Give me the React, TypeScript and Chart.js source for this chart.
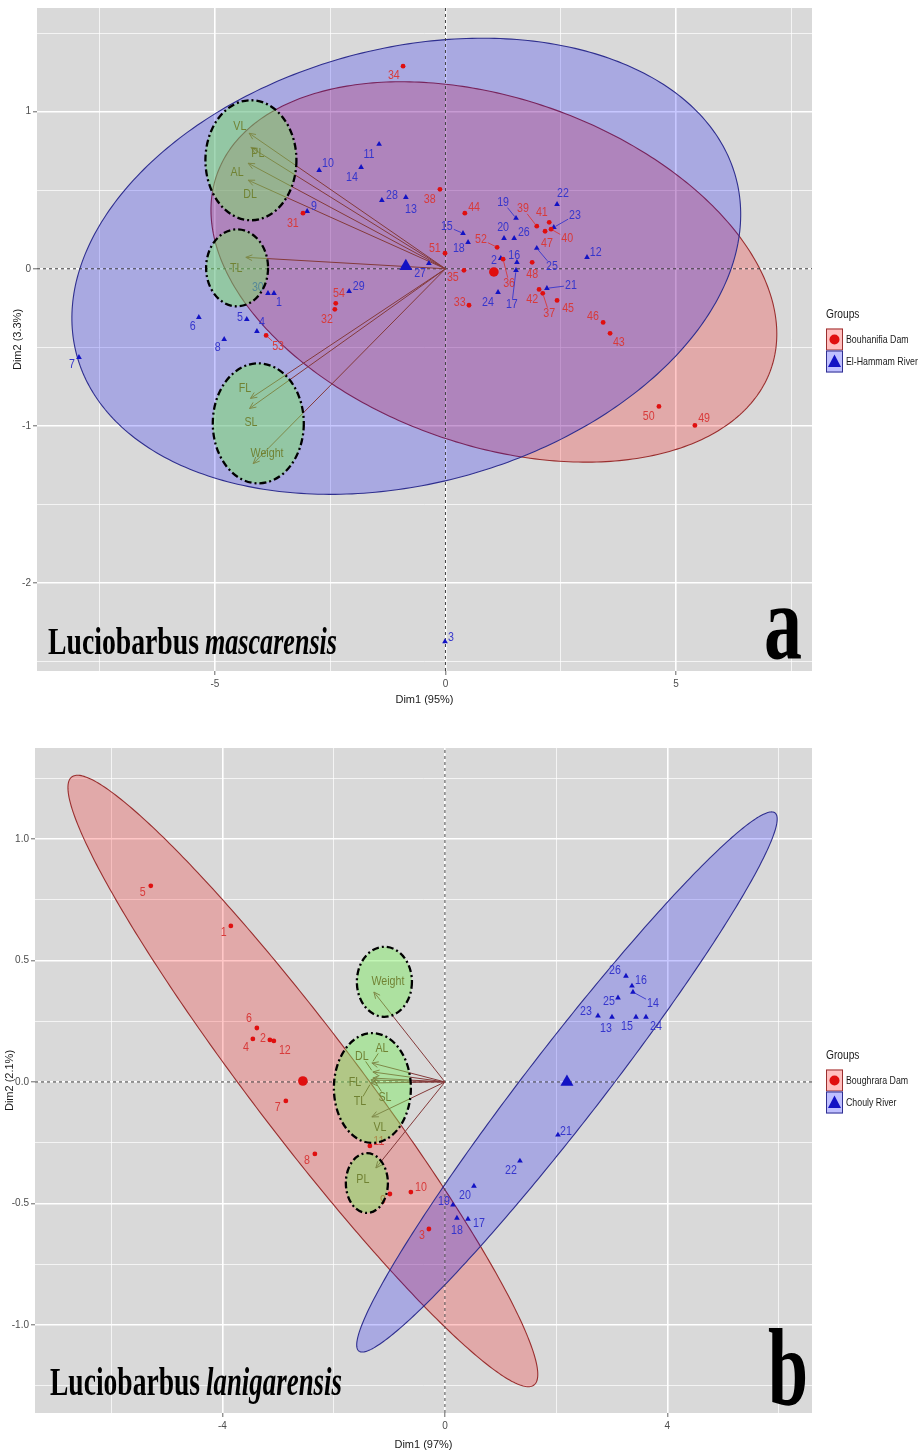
import React, { useEffect, useRef } from "react";
import { Chart, registerables } from "chart.js";
Chart.register(...registerables);

// ================= Panel a : Luciobarbus mascarensis =================
const A_GROUPS = ["Bouhanifia Dam", "El-Hammam River"];
const A_X_TITLE = "Dim1 (95%)";
const A_Y_TITLE = "Dim2 (3.3%)";
const A_X_RANGE = [-8.86, 7.95];
const A_Y_RANGE = [-2.56, 1.66];

const A_BLUE_IDS = [1, 2, 3, 4, 5, 6, 7, 8, 9, 10, 11, 12, 13, 14, 15, 16, 17, 18, 19, 20, 21, 22, 23, 24, 25, 26, 27, 28, 29, 30];
const A_BLUE_X = [-3.72, 1.20, -0.01, -4.09, -4.31, -5.35, -7.95, -4.80, -3.00, -2.74, -1.44, 3.07, -0.86, -1.83, 0.38, 1.55, 1.53, 0.49, 1.53, 1.27, 2.20, 2.42, 2.35, 1.14, 1.98, 1.49, -0.36, -1.38, -2.09, -3.85];
const A_BLUE_Y = [-0.156, 0.067, -2.373, -0.398, -0.322, -0.309, -0.564, -0.449, 0.366, 0.627, 0.793, 0.073, 0.455, 0.646, 0.226, 0.041, -0.010, 0.169, 0.322, 0.194, -0.124, 0.411, 0.264, -0.150, 0.131, 0.194, 0.035, 0.436, -0.143, -0.156];
const A_BLUE_LX = [-3.61, 1.05, 0.12, -3.98, -4.46, -5.48, -8.10, -4.94, -2.85, -2.55, -1.66, 3.26, -0.75, -2.03, 0.03, 1.49, 1.44, 0.29, 1.25, 1.25, 2.72, 2.55, 2.81, 0.92, 2.31, 1.70, -0.55, -1.16, -1.88, -4.07];
const A_BLUE_LY = [-0.213, 0.054, -2.347, -0.341, -0.309, -0.366, -0.608, -0.500, 0.398, 0.672, 0.729, 0.105, 0.379, 0.583, 0.270, 0.086, -0.226, 0.131, 0.424, 0.264, -0.105, 0.481, 0.341, -0.213, 0.016, 0.232, -0.029, 0.468, -0.111, -0.118];

const A_RED_IDS = [31, 32, 33, 34, 35, 36, 37, 38, 39, 40, 41, 42, 43, 44, 45, 46, 47, 48, 49, 50, 51, 52, 53, 54];
const A_RED_X = [-3.09, -2.40, 0.51, -0.92, 0.40, 1.25, 2.11, -0.12, 1.98, 2.29, 2.25, 2.03, 3.57, 0.42, 2.42, 3.42, 2.16, 1.88, 5.41, 4.63, -0.01, 1.12, -3.89, -2.38];
const A_RED_Y = [0.354, -0.258, -0.232, 1.290, -0.010, 0.061, -0.156, 0.506, 0.271, 0.252, 0.296, -0.131, -0.411, 0.354, -0.201, -0.341, 0.239, 0.041, -0.997, -0.876, 0.099, 0.137, -0.424, -0.220];
const A_RED_LX = [-3.31, -2.57, 0.31, -1.12, 0.16, 1.38, 2.25, -0.34, 1.68, 2.64, 2.09, 1.88, 3.76, 0.62, 2.66, 3.20, 2.20, 1.88, 5.61, 4.41, -0.23, 0.77, -3.63, -2.31];
const A_RED_LY = [0.290, -0.322, -0.213, 1.232, -0.054, -0.092, -0.283, 0.443, 0.385, 0.194, 0.360, -0.194, -0.468, 0.392, -0.252, -0.303, 0.162, -0.035, -0.952, -0.939, 0.131, 0.188, -0.494, -0.156];

const A_RED_MEAN = [1.05, -0.02];
const A_BLUE_MEAN = [-0.86, 0.016];

const A_VARS = ["VL", "PL", "AL", "DL", "TL", "FL", "SL", "Weight"];
const A_VAR_X = [-4.26, -4.22, -4.28, -4.28, -4.33, -4.23, -4.25, -4.17];
const A_VAR_Y = [0.863, 0.773, 0.672, 0.564, 0.073, -0.825, -0.889, -1.24];
const A_VAR_LX = [-4.46, -4.07, -4.52, -4.24, -4.54, -4.35, -4.22, -3.87];
const A_VAR_LY = [0.908, 0.736, 0.615, 0.475, 0.003, -0.761, -0.978, -1.175];

// confidence ellipses: centre x, centre y, semi-diameter u (x,y), conjugate semi-diameter v (x,y)
const A_RED_ELLIPSE = [1.05, -0.02, 6.01, -0.618, 1.24, 1.041];
const A_BLUE_ELLIPSE = [-0.85, 0.016, 7.15, 0.563, 1.22, -1.338];
// highlighted variable groups: centre x, centre y, radius x, radius y
const A_HIGHLIGHTS = [
  [-4.22, 0.691, 0.987, 0.382],
  [-4.52, 0.006, 0.672, 0.245],
  [-4.06, -0.984, 0.987, 0.382],
];

// ================= Panel b : Luciobarbus lanigarensis =================
const B_GROUPS = ["Boughrara Dam", "Chouly River"];
const B_X_TITLE = "Dim1 (97%)";
const B_Y_TITLE = "Dim2 (2.1%)";
const B_X_RANGE = [-7.37, 6.6];
const B_Y_RANGE = [-1.362, 1.374];

const B_RED_IDS = [1, 2, 3, 4, 5, 6, 7, 8, 9, 10, 11, 12];
const B_RED_X = [-3.849, -3.147, -0.288, -3.453, -5.288, -3.381, -2.86, -2.338, -0.989, -0.612, -1.349, -3.076];
const B_RED_Y = [0.642, 0.173, -0.605, 0.177, 0.807, 0.222, -0.078, -0.296, -0.461, -0.453, -0.263, 0.169];
const B_RED_LX = [-3.975, -3.273, -0.414, -3.579, -5.432, -3.525, -3.004, -2.482, -1.115, -0.432, -1.187, -2.878];
const B_RED_LY = [0.617, 0.181, -0.63, 0.144, 0.778, 0.263, -0.103, -0.321, -0.486, -0.432, -0.243, 0.128];

const B_BLUE_IDS = [13, 14, 15, 16, 17, 18, 19, 20, 21, 22, 23, 24, 25, 26];
const B_BLUE_X = [3.004, 3.381, 3.435, 3.363, 0.414, 0.216, 0.144, 0.522, 2.032, 1.349, 2.752, 3.615, 3.112, 3.255];
const B_BLUE_Y = [0.267, 0.37, 0.267, 0.395, -0.564, -0.56, -0.506, -0.428, -0.218, -0.325, 0.272, 0.267, 0.346, 0.436];
const B_BLUE_LX = [2.896, 3.741, 3.273, 3.525, 0.612, 0.216, -0.018, 0.36, 2.176, 1.187, 2.536, 3.795, 2.95, 3.058];
const B_BLUE_LY = [0.222, 0.325, 0.23, 0.416, -0.58, -0.609, -0.49, -0.465, -0.202, -0.366, 0.292, 0.23, 0.333, 0.457];

const B_RED_MEAN = [-2.554, 0.004];
const B_BLUE_MEAN = [2.194, 0.0];

const B_VARS = ["Weight", "AL", "DL", "FL", "TL", "SL", "VL", "PL"];
const B_VAR_X = [-1.277, -1.313, -1.295, -1.331, -1.331, -1.295, -1.313, -1.241];
const B_VAR_Y = [0.37, 0.078, 0.041, 0.008, -0.004, 0.016, -0.144, -0.354];
const B_VAR_LX = [-1.025, -1.133, -1.493, -1.619, -1.529, -1.079, -1.169, -1.475];
const B_VAR_LY = [0.412, 0.14, 0.107, 0.0, -0.082, -0.062, -0.189, -0.399];

const B_RED_ELLIPSE = [-2.554, 0.004, 4.155, -1.251, 0.759, 0.132];
const B_BLUE_ELLIPSE = [2.194, 0.0, 3.741, 1.107, 0.541, -0.096];
const B_HIGHLIGHTS = [
  [-1.088, 0.412, 0.495, 0.144],
  [-1.304, -0.025, 0.692, 0.226],
  [-1.403, -0.416, 0.378, 0.123],
];

// ================= styles =================
const NARROW = "'Liberation Sans Narrow', 'Liberation Sans', Arial, sans-serif";
const SERIF = "'Liberation Serif', 'DejaVu Serif', serif";
const BG = "#d9d9d9";
const RED_PT = "#e00f0f";
const BLUE_PT = "#1212c4";
const RED_TXT = "#d83a3a";
const BLUE_TXT = "#3535cc";
const RED_FILL = "rgba(255,0,0,0.22)";
const BLUE_FILL = "rgba(0,0,255,0.22)";
const RED_EDGE = "#9a2f2f";
const BLUE_EDGE = "#2f2f8f";
const ARROW = "#843a3a";
const VAR_TXT = "#6a2c12";
const GREEN = "rgba(120,235,90,0.45)";
const SQUEEZE = 0.82;

Chart.defaults.font.family = NARROW;

function isMajor(v: number, major: number) {
  const r = v / major;
  return Math.abs(r - Math.round(r)) < 1e-6;
}

function fillNarrow(ctx: any, text: string, x: number, y: number, f = SQUEEZE) {
  const w = ctx.measureText(text).width;
  ctx.fillText(text, x, y, w * f);
  return w * f;
}

function ellipsePath(ctx: any, xs: any, ys: any, e: number[]) {
  ctx.beginPath();
  for (let i = 0; i <= 360; i++) {
    const t = (i / 360) * Math.PI * 2;
    const dx = e[0] + e[2] * Math.cos(t) + e[4] * Math.sin(t);
    const dy = e[1] + e[3] * Math.cos(t) + e[5] * Math.sin(t);
    const px = xs.getPixelForValue(dx);
    const py = ys.getPixelForValue(dy);
    if (i === 0) ctx.moveTo(px, py);
    else ctx.lineTo(px, py);
  }
  ctx.closePath();
}

function drawLabel(ctx: any, text: string, px: number, py: number, lx: number, ly: number, color: string, minGap: number) {
  ctx.fillStyle = color;
  const w = fillNarrow(ctx, text, lx, ly);
  const hw = w / 2 + 1;
  const hh = 5.5;
  const dx = px - lx;
  const dy = py - ly;
  const adx = Math.abs(dx);
  const ady = Math.abs(dy);
  if (adx <= hw && ady <= hh) return;
  const t = Math.min(adx > 0 ? hw / adx : Infinity, ady > 0 ? hh / ady : Infinity);
  const ex = lx + dx * t;
  const ey = ly + dy * t;
  const gap = Math.hypot(px - ex, py - ey);
  if (gap > minGap) {
    const k = (gap - 2) / gap;
    ctx.strokeStyle = color;
    ctx.lineWidth = 0.9;
    ctx.beginPath();
    ctx.moveTo(ex, ey);
    ctx.lineTo(ex + (px - ex) * k, ey + (py - ey) * k);
    ctx.stroke();
  }
}

function decorPlugin(s: any) {
  return {
    id: "decor",
    beforeDraw(chart: any) {
      const { ctx, chartArea: a } = chart;
      ctx.save();
      ctx.fillStyle = "#ffffff";
      ctx.fillRect(0, 0, chart.width, chart.height);
      ctx.fillStyle = BG;
      ctx.fillRect(a.left, a.top, a.right - a.left, a.bottom - a.top);
      ctx.restore();
    },
    beforeDatasetsDraw(chart: any) {
      const { ctx, chartArea: a, scales } = chart;
      ctx.save();
      ctx.beginPath();
      ctx.rect(a.left, a.top, a.right - a.left, a.bottom - a.top);
      ctx.clip();
      const ells = [
        { e: s.redEll, fill: RED_FILL, edge: RED_EDGE },
        { e: s.blueEll, fill: BLUE_FILL, edge: BLUE_EDGE },
      ];
      for (const g of ells) {
        ellipsePath(ctx, scales.x, scales.y, g.e);
        ctx.fillStyle = g.fill;
        ctx.fill();
        ctx.strokeStyle = g.edge;
        ctx.lineWidth = 1.1;
        ctx.stroke();
      }
      ctx.restore();
    },
    afterDatasetsDraw(chart: any) {
      const { ctx, chartArea: a, scales } = chart;
      const xs = scales.x;
      const ys = scales.y;
      ctx.save();
      ctx.beginPath();
      ctx.rect(a.left, a.top, a.right - a.left, a.bottom - a.top);
      ctx.clip();
      // arrow heads
      const ox = xs.getPixelForValue(0);
      const oy = ys.getPixelForValue(0);
      ctx.strokeStyle = ARROW;
      ctx.lineWidth = 1;
      s.varX.forEach((vx: number, i: number) => {
        const tx = xs.getPixelForValue(vx);
        const ty = ys.getPixelForValue(s.varY[i]);
        const ang = Math.atan2(ty - oy, tx - ox);
        const L = 7;
        const sp = 0.42;
        ctx.beginPath();
        ctx.moveTo(tx - L * Math.cos(ang - sp), ty - L * Math.sin(ang - sp));
        ctx.lineTo(tx, ty);
        ctx.lineTo(tx - L * Math.cos(ang + sp), ty - L * Math.sin(ang + sp));
        ctx.stroke();
      });
      ctx.font = `13px ${NARROW}`;
      ctx.textAlign = "center";
      ctx.textBaseline = "middle";
      // variable labels
      s.vars.forEach((name: string, i: number) => {
        drawLabel(
          ctx, name,
          xs.getPixelForValue(s.varX[i]), ys.getPixelForValue(s.varY[i]),
          xs.getPixelForValue(s.varLX[i]), ys.getPixelForValue(s.varLY[i]),
          VAR_TXT, 10
        );
      });
      // individual labels
      s.redIds.forEach((id: number, i: number) => {
        drawLabel(
          ctx, String(id),
          xs.getPixelForValue(s.redX[i]), ys.getPixelForValue(s.redY[i]),
          xs.getPixelForValue(s.redLX[i]), ys.getPixelForValue(s.redLY[i]),
          RED_TXT, 8
        );
      });
      s.blueIds.forEach((id: number, i: number) => {
        drawLabel(
          ctx, String(id),
          xs.getPixelForValue(s.blueX[i]), ys.getPixelForValue(s.blueY[i]),
          xs.getPixelForValue(s.blueLX[i]), ys.getPixelForValue(s.blueLY[i]),
          BLUE_TXT, 8
        );
      });
      ctx.restore();
    },
    afterDraw(chart: any) {
      const { ctx, chartArea: a, scales } = chart;
      const xs = scales.x;
      const ys = scales.y;
      ctx.save();
      // green highlight ellipses
      for (const h of s.highlights) {
        const cx = xs.getPixelForValue(h[0]);
        const cy = ys.getPixelForValue(h[1]);
        const rx = Math.abs(xs.getPixelForValue(h[0] + h[2]) - cx);
        const ry = Math.abs(ys.getPixelForValue(h[1] + h[3]) - cy);
        ctx.beginPath();
        ctx.ellipse(cx, cy, rx, ry, 0, 0, Math.PI * 2);
        ctx.fillStyle = GREEN;
        ctx.fill();
        ctx.setLineDash([7, 3, 2, 3]);
        ctx.lineWidth = 2.3;
        ctx.strokeStyle = "#000";
        ctx.stroke();
      }
      ctx.setLineDash([]);
      // species title
      ctx.fillStyle = "#000";
      ctx.textAlign = "left";
      ctx.textBaseline = "alphabetic";
      const tx = a.left + s.titleDX;
      const ty = a.bottom - s.titleDY;
      ctx.font = `bold ${s.titleSize}px ${SERIF}`;
      ctx.fillText(s.genus, tx, ty, s.genusW);
      ctx.font = `italic bold ${s.titleSize}px ${SERIF}`;
      ctx.fillText(s.species, tx + s.genusW + 6, ty, s.speciesW);
      // panel letter
      ctx.textAlign = "right";
      ctx.font = `bold ${s.letterSize}px ${SERIF}`;
      ctx.fillText(s.letter, a.right - s.letterDX, a.bottom - s.letterDY, s.letterW);
      // legend
      const mid = (a.top + a.bottom) / 2;
      const x0 = a.right + 14;
      ctx.textAlign = "left";
      ctx.textBaseline = "middle";
      ctx.fillStyle = "#1a1a1a";
      ctx.font = `12px ${NARROW}`;
      fillNarrow(ctx, "Groups", x0, mid - 25, 0.85);
      const keys = [
        { top: mid - 11, fill: "rgba(255,0,0,0.25)", edge: RED_EDGE, col: RED_PT, tri: false, label: s.groups[0] },
        { top: mid + 11, fill: "rgba(0,0,255,0.25)", edge: BLUE_EDGE, col: BLUE_PT, tri: true, label: s.groups[1] },
      ];
      for (const k of keys) {
        ctx.fillStyle = "#fff";
        ctx.fillRect(x0, k.top, 17, 22);
        ctx.fillStyle = k.fill;
        ctx.fillRect(x0, k.top, 17, 22);
        ctx.strokeStyle = k.edge;
        ctx.lineWidth = 1;
        ctx.strokeRect(x0 + 0.5, k.top + 0.5, 16, 21);
        const cx = x0 + 8.5;
        const cy = k.top + 11;
        ctx.fillStyle = k.col;
        ctx.beginPath();
        if (k.tri) {
          ctx.moveTo(cx, cy - 7);
          ctx.lineTo(cx + 6.5, cy + 5.5);
          ctx.lineTo(cx - 6.5, cy + 5.5);
          ctx.closePath();
        } else {
          ctx.arc(cx, cy, 5, 0, Math.PI * 2);
        }
        ctx.fill();
        ctx.fillStyle = "#1a1a1a";
        ctx.font = `11px ${NARROW}`;
        fillNarrow(ctx, k.label, x0 + 20, cy, 0.8);
      }
      ctx.restore();
    },
  };
}

function buildConfig(s: any) {
  const redPts = s.redX.map((x: number, i: number) => ({ x, y: s.redY[i] }));
  const bluePts = s.blueX.map((x: number, i: number) => ({ x, y: s.blueY[i] }));
  const arrowSets = s.varX.map((vx: number, i: number) => ({
    data: [{ x: 0, y: 0 }, { x: vx, y: s.varY[i] }],
    showLine: true,
    borderColor: ARROW,
    borderWidth: 1,
    pointRadius: 0,
    order: 2,
  }));
  const datasets: any[] = [
    { data: redPts, pointStyle: "circle", pointRadius: 2.4, backgroundColor: RED_PT, borderWidth: 0, order: 0 },
    { data: bluePts, pointStyle: "triangle", pointRadius: 3.3, backgroundColor: BLUE_PT, borderWidth: 0, order: 0 },
    { data: [{ x: s.redMean[0], y: s.redMean[1] }], pointStyle: "circle", pointRadius: 4.8, backgroundColor: RED_PT, borderWidth: 0, order: 1 },
    { data: [{ x: s.blueMean[0], y: s.blueMean[1] }], pointStyle: "triangle", pointRadius: 7.5, backgroundColor: BLUE_PT, borderWidth: 0, order: 1 },
    ...arrowSets,
    {
      data: [{ x: s.xRange[0], y: 0 }, { x: s.xRange[1], y: 0 }],
      showLine: true, borderColor: "#333", borderWidth: 1, borderDash: [3, 3], pointRadius: 0, order: 3,
    },
    {
      data: [{ x: 0, y: s.yRange[0] }, { x: 0, y: s.yRange[1] }],
      showLine: true, borderColor: "#444", borderWidth: 1, borderDash: [3, 3], pointRadius: 0, order: 3,
    },
  ];
  const gridFor = (major: number) => ({
    color: "#ffffff",
    lineWidth: (c: any) => (c.tick && isMajor(c.tick.value, major) ? 1.6 : 0.7),
    tickColor: (c: any) => (c.tick && isMajor(c.tick.value, major) ? "#666" : "rgba(0,0,0,0)"),
    tickLength: 4,
    tickWidth: 1,
  });
  return {
    type: "scatter",
    data: { datasets },
    plugins: [decorPlugin(s)],
    options: {
      responsive: false,
      animation: false,
      events: [],
      layout: { padding: { left: 0, right: s.padRight, top: s.padTop, bottom: 0 } },
      plugins: { legend: { display: false }, tooltip: { enabled: false } },
      scales: {
        x: {
          type: "linear",
          position: "bottom",
          min: s.xRange[0],
          max: s.xRange[1],
          afterFit: (sc: any) => { sc.height = s.xAxisH; },
          border: { display: false },
          grid: gridFor(s.xMajor),
          ticks: {
            stepSize: s.xStep,
            includeBounds: false,
            autoSkip: false,
            maxRotation: 0,
            padding: 3,
            color: "#4d4d4d",
            font: { family: NARROW, size: 10 },
            callback: (v: number) => (isMajor(v, s.xMajor) ? String(Math.round(v)) : ""),
          },
          title: {
            display: true,
            text: s.xTitle,
            color: "#1a1a1a",
            font: { family: NARROW, size: 11 },
            padding: { top: 0, bottom: s.xTitlePad },
          },
        },
        y: {
          type: "linear",
          position: "left",
          min: s.yRange[0],
          max: s.yRange[1],
          afterFit: (sc: any) => { sc.width = s.yAxisW; },
          border: { display: false },
          grid: gridFor(s.yMajor),
          ticks: {
            stepSize: s.yStep,
            includeBounds: false,
            autoSkip: false,
            padding: 2,
            color: "#4d4d4d",
            font: { family: NARROW, size: 10 },
            callback: (v: number) => (isMajor(v, s.yMajor) ? v.toFixed(s.yDigits) : ""),
          },
          title: {
            display: true,
            text: s.yTitle,
            color: "#1a1a1a",
            font: { family: NARROW, size: 11 },
            padding: { top: s.yTitlePad, bottom: 0 },
          },
        },
      },
    },
  };
}

const SPEC_A = {
  xRange: A_X_RANGE, yRange: A_Y_RANGE,
  xStep: 2.5, xMajor: 5, yStep: 0.5, yMajor: 1, yDigits: 0,
  xTitle: A_X_TITLE, yTitle: A_Y_TITLE,
  padTop: 8, padRight: 107, yAxisW: 37, xAxisH: 56, xTitlePad: 20, yTitlePad: 11,
  redIds: A_RED_IDS, redX: A_RED_X, redY: A_RED_Y, redLX: A_RED_LX, redLY: A_RED_LY,
  blueIds: A_BLUE_IDS, blueX: A_BLUE_X, blueY: A_BLUE_Y, blueLX: A_BLUE_LX, blueLY: A_BLUE_LY,
  redMean: A_RED_MEAN, blueMean: A_BLUE_MEAN,
  vars: A_VARS, varX: A_VAR_X, varY: A_VAR_Y, varLX: A_VAR_LX, varLY: A_VAR_LY,
  redEll: A_RED_ELLIPSE, blueEll: A_BLUE_ELLIPSE, highlights: A_HIGHLIGHTS,
  groups: A_GROUPS,
  genus: "Luciobarbus", species: "mascarensis",
  titleDX: 11, titleDY: 17, titleSize: 38, genusW: 151, speciesW: 132,
  letter: "a", letterSize: 105, letterW: 38, letterDX: 10, letterDY: 13,
};

const SPEC_B = {
  xRange: B_X_RANGE, yRange: B_Y_RANGE,
  xStep: 2, xMajor: 4, yStep: 0.25, yMajor: 0.5, yDigits: 1,
  xTitle: B_X_TITLE, yTitle: B_Y_TITLE,
  padTop: 21, padRight: 107, yAxisW: 35, xAxisH: 42, xTitlePad: 3, yTitlePad: 3,
  redIds: B_RED_IDS, redX: B_RED_X, redY: B_RED_Y, redLX: B_RED_LX, redLY: B_RED_LY,
  blueIds: B_BLUE_IDS, blueX: B_BLUE_X, blueY: B_BLUE_Y, blueLX: B_BLUE_LX, blueLY: B_BLUE_LY,
  redMean: B_RED_MEAN, blueMean: B_BLUE_MEAN,
  vars: B_VARS, varX: B_VAR_X, varY: B_VAR_Y, varLX: B_VAR_LX, varLY: B_VAR_LY,
  redEll: B_RED_ELLIPSE, blueEll: B_BLUE_ELLIPSE, highlights: B_HIGHLIGHTS,
  groups: B_GROUPS,
  genus: "Luciobarbus", species: "lanigarensis",
  titleDX: 15, titleDY: 18, titleSize: 39, genusW: 150, speciesW: 136,
  letter: "b", letterSize: 110, letterW: 40, letterDX: 4, letterDY: 8,
};

function Panel({ spec, top, height }: { spec: any; top: number; height: number }) {
  const ref = useRef<HTMLCanvasElement>(null);
  useEffect(() => {
    const chart = new Chart(ref.current as HTMLCanvasElement, buildConfig(spec) as any);
    return () => chart.destroy();
  }, [spec]);
  return (
    <canvas
      ref={ref}
      width={919}
      height={height}
      style={{ position: "absolute", left: 0, top, width: 919, height, display: "block" }}
    />
  );
}

export default function App() {
  return (
    <div style={{ position: "absolute", left: 0, top: 0, width: 919, height: 1455, background: "#fff", overflow: "hidden" }}>
      <Panel spec={SPEC_A} top={0} height={727} />
      <Panel spec={SPEC_B} top={727} height={728} />
    </div>
  );
}
